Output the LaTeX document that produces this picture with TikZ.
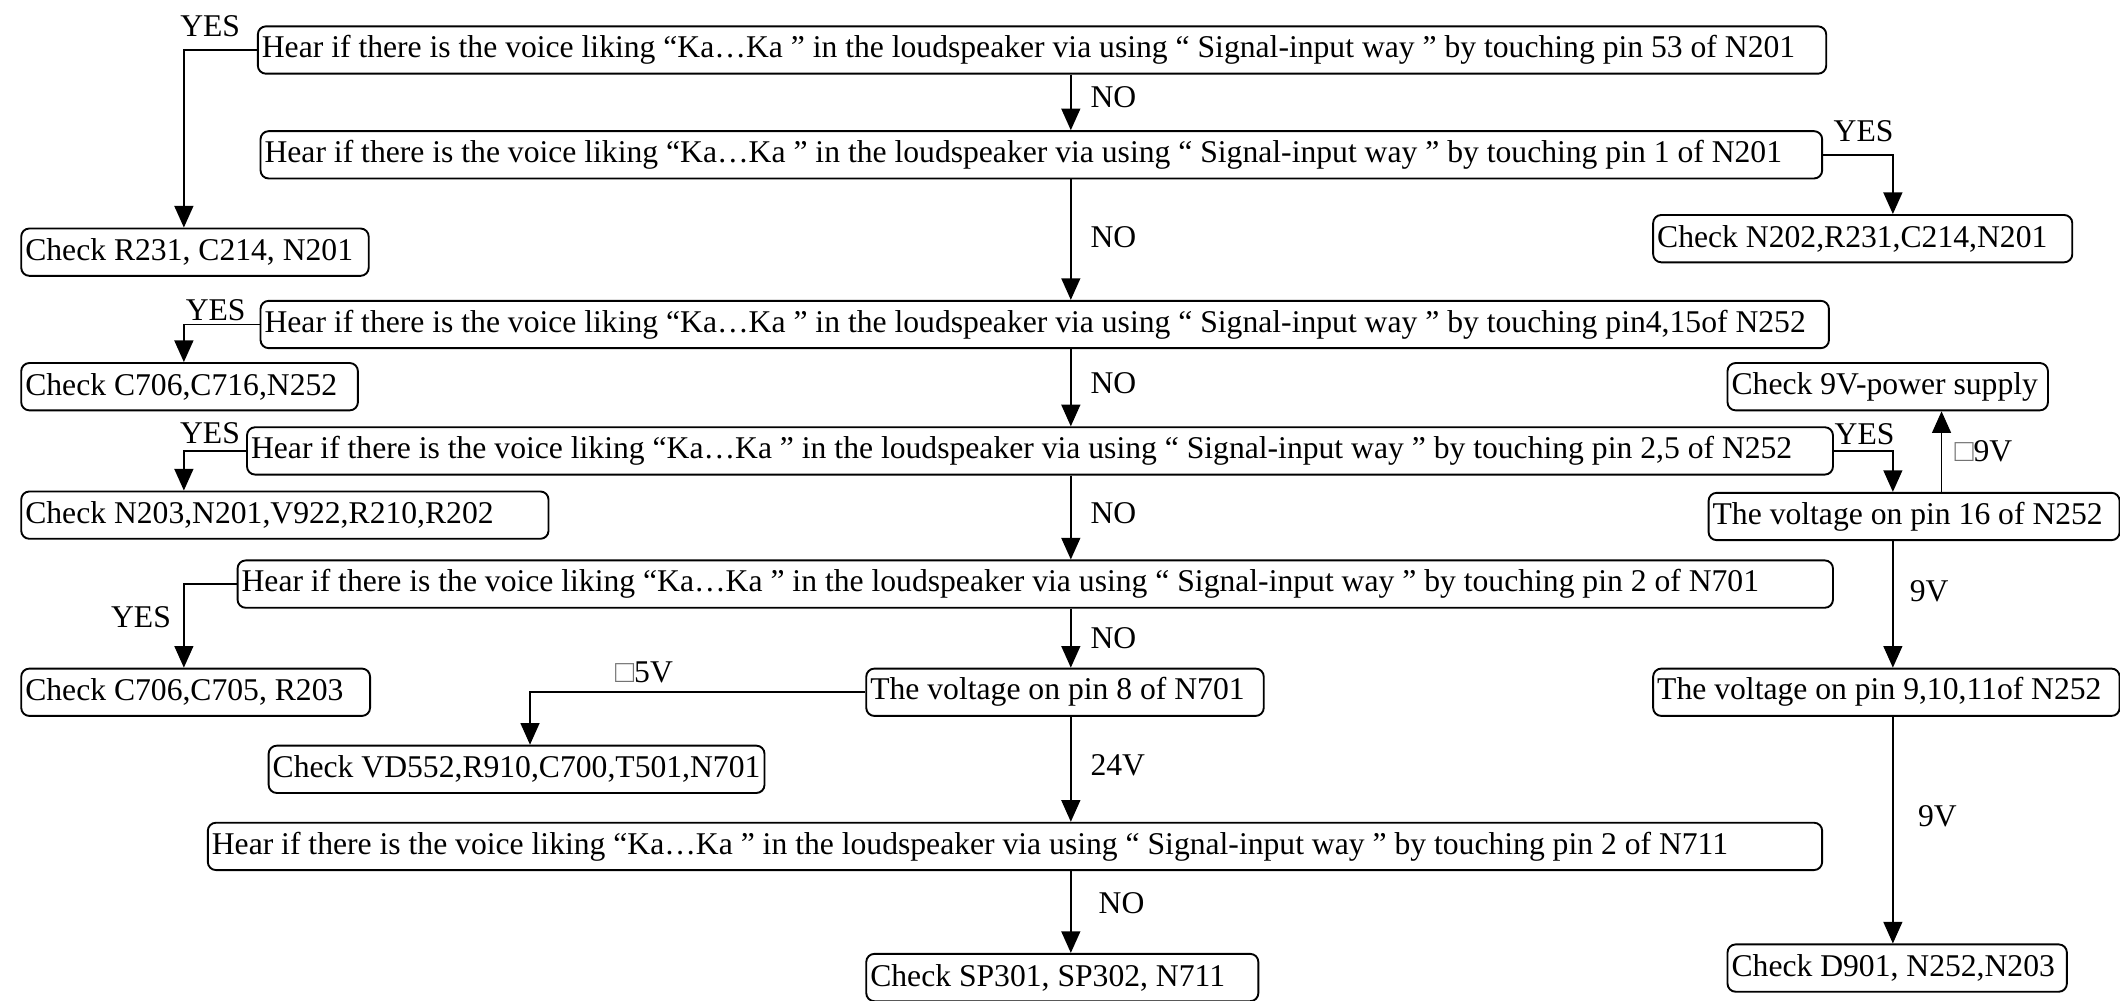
\documentclass[tikz,border=0pt]{standalone}
\usepackage{fontspec}
\setmainfont{Liberation Serif}
\usepackage{tikz}
\usetikzlibrary{arrows.meta}
\tikzset{
    flow-box/.style = {draw, rounded corners=3pt, line width=0.7pt, inner xsep=1.5pt, inner ysep=0pt, minimum height=17.5pt, anchor=west},
    wide-box/.style = {flow-box, execute at begin node={\hbox to #1\bgroup}, execute at end node={\hss\egroup}},
    flow-line/.style = {line width=0.6pt, -{Triangle[length=8pt,width=7pt]}},
    flow-label/.style = {inner sep=1pt},
}
\newcommand{\missing}{{\color{black!55}□}}

\begin{document}
\begin{tikzpicture}[x=0.5pt, y=-0.5pt, font=\fontsize{11.7pt}{13pt}\selectfont]
\useasboundingbox (0,0) rectangle (1568,740);
\coordinate (mid) at (792,0);
\coordinate (left-col) at (136,0);
\coordinate (right-col) at (1400,0);
\coordinate (supply-col) at (1436,0);
\coordinate (low-col) at (392,0);

\node[wide-box=577pt] (q1) at (190,37) {Hear if there is the voice liking “Ka…Ka ” in the loudspeaker via using “ Signal-input way ” by touching pin 53 of N201};
\node[wide-box=574.5pt] (q2) at (192,114.5) {Hear if there is the voice liking “Ka…Ka ” in the loudspeaker via using “ Signal-input way ” by touching pin 1 of N201};
\node[wide-box=577pt] (q3) at (192,240) {Hear if there is the voice liking “Ka…Ka ” in the loudspeaker via using “ Signal-input way ” by touching pin4,15of N252};
\node[wide-box=583.5pt] (q4) at (182,333.5) {Hear if there is the voice liking “Ka…Ka ” in the loudspeaker via using “ Signal-input way ” by touching pin 2,5 of N252};
\node[wide-box=587pt] (q5) at (175,432) {Hear if there is the voice liking “Ka…Ka ” in the loudspeaker via using “ Signal-input way ” by touching pin 2 of N701};
\node[wide-box=594pt] (q6) at (153,626) {Hear if there is the voice liking “Ka…Ka ” in the loudspeaker via using “ Signal-input way ” by touching pin 2 of N711};

\node[wide-box=125.5pt] (c1) at (15,186.5) {Check R231, C214, N201};
\node[wide-box=152pt] (c2) at (1222,176.5) {Check N202,R231,C214,N201};
\node[wide-box=121.5pt] (c3) at (15,286) {Check C706,C716,N252};
\node[wide-box=192pt] (c4) at (15,381) {Check N203,N201,V922,R210,R202};
\node[wide-box=126pt] (c5) at (15,512) {Check C706,C705, R203};
\node[flow-box] (c6) at (198,569) {Check VD552,R910,C700,T501,N701};
\node[wide-box=142pt] (c7) at (640,723) {Check SP301, SP302, N711};
\node[wide-box=122.5pt] (c8) at (1277,716) {Check D901, N252,N203};

\node[wide-box=144pt] (v8) at (640,512) {The voltage on pin 8 of N701};
\node[wide-box=115.5pt] (supply) at (1277,286) {Check 9V-power supply};
\node[wide-box=149pt] (v16) at (1263,382) {The voltage on pin 16 of N252};
\node[wide-box=169.5pt] (v911) at (1222,512) {The voltage on pin 9,10,11of N252};

\draw[flow-line] (q1.south -| mid) -- node[flow-label, right=6pt, pos=0.4] {NO} (q2.north -| mid);
\draw[flow-line] (q2.south -| mid) -- node[flow-label, right=6pt, pos=0.48] {NO} (q3.north -| mid);
\draw[flow-line] (q3.south -| mid) -- node[flow-label, right=6pt, pos=0.44] {NO} (q4.north -| mid);
\draw[flow-line] (q4.south -| mid) -- node[flow-label, right=6pt, pos=0.45] {NO} (q5.north -| mid);
\draw[flow-line] (q5.south -| mid) -- node[flow-label, right=6pt, pos=0.5] {NO} (v8.north -| mid);
\draw[flow-line] (v8.south -| mid) -- node[flow-label, right=6pt, pos=0.46] {24V} (q6.north -| mid);
\draw[flow-line] (q6.south -| mid) -- node[flow-label, right=9pt, pos=0.39] {NO} (c7.north -| mid);

\draw[flow-line] (q1.west) -| node[flow-label, above=3.5pt, pos=0.32] {YES} (left-col |- c1.north);
\draw[flow-line] (q3.west) -| node[flow-label, above, pos=0.29] {YES} (left-col |- c3.north);
\draw[flow-line] (q4.west) -| node[flow-label, above=1.5pt, pos=0.29] {YES} (left-col |- c4.north);
\draw[flow-line] (q5.west) -| node[flow-label, left=3.5pt, pos=0.7] {YES} (left-col |- c5.north);
\draw[flow-line] (q2.east) -| node[flow-label, above=3.5pt, pos=0.29] {YES} (right-col |- c2.north);
\draw[flow-line] (q4.east) -| node[flow-label, above=1pt, pos=0.26] {YES} (right-col |- v16.north);
\draw[flow-line] (v8.west) -| node[flow-label, above=2pt, pos=0.33] {\missing5V} (low-col |- c6.north);

\draw[flow-line] (supply-col |- v16.north) -- node[flow-label, right=3.5pt, pos=0.5] {\missing9V} (supply-col |- supply.south);
\draw[flow-line] (right-col |- v16.south) -- node[flow-label, right=5pt, pos=0.4] {9V} (right-col |- v911.north);
\draw[flow-line] (right-col |- v911.south) -- node[flow-label, right=8pt, pos=0.44] {9V} (right-col |- c8.north);
\end{tikzpicture}
\end{document}
